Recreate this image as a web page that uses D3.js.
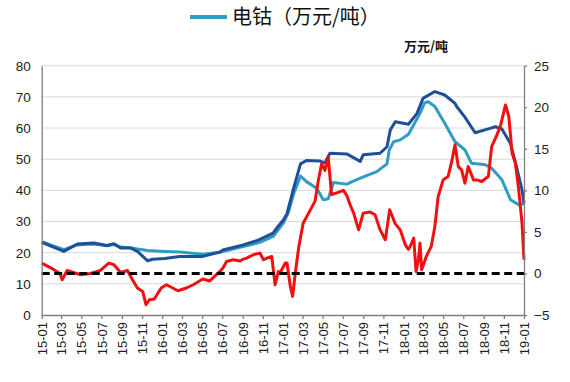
<!DOCTYPE html>
<html><head><meta charset="utf-8">
<script src="https://cdn.jsdelivr.net/npm/d3@7"></script>
<style>
body{margin:0;background:#fff}
text{font-family:"Liberation Sans",Arial,sans-serif}
</style>
</head><body><svg id="c" width="570" height="382"></svg>
<script>
// ---------- data ----------
const legendLabel = "电钴（万元/吨）";
const rightAxisTitle = "万元/吨";
const xTickLabels = ["15-01","15-03","15-05","15-07","15-09","15-11","16-01","16-03","16-05","16-07","16-09","16-11",
  "17-01","17-03","17-05","17-07","17-09","17-11","18-01","18-03","18-05","18-07","18-09","18-11","19-01"];
const leftTicks = [0,10,20,30,40,50,60,70,80];
const rightTicks = [-5,0,5,10,15,20,25];

// dark blue series (left axis)
const blueDates = ["2015-01-01","2015-03-09","2015-04-19","2015-06-08","2015-07-18","2015-08-08","2015-08-28","2015-09-27",
  "2015-10-18","2015-11-18","2015-12-03","2016-01-08","2016-02-23","2016-05-03","2016-06-24","2016-07-03","2016-08-24",
  "2016-10-18","2016-12-02","2016-12-13","2017-01-02","2017-01-13","2017-02-03","2017-02-23","2017-03-13","2017-04-23",
  "2017-05-08","2017-05-23","2017-07-13","2017-08-23","2017-09-01","2017-10-22","2017-11-12","2017-11-22","2017-12-07",
  "2018-01-16","2018-02-11","2018-03-01","2018-04-06","2018-05-06","2018-06-06","2018-06-11","2018-07-06","2018-08-06",
  "2018-09-20","2018-10-06","2018-10-26","2018-11-21","2018-12-06","2018-12-26","2019-01-01"];
const blueValues = [23.3,20.4,22.8,23.1,22.3,22.9,21.5,21.5,
  20.4,17.4,17.9,18.1,18.8,18.8,20.2,20.9,22.2,
  24.0,26.3,27.9,30.5,32.5,41.0,48.5,49.6,49.4,
  48.8,51.9,51.7,49.3,51.4,51.9,54.0,59.4,62.0,
  61.2,64.7,69.5,71.7,70.6,67.9,66.9,63.5,58.5,
  59.9,60.4,59.7,55.0,49.0,40.2,35.9];

// teal series 电钴 (left axis)
const tealDates = ["2015-01-01","2015-03-09","2015-04-19","2015-06-08","2015-07-18","2015-08-08","2015-08-28","2015-09-27",
  "2015-10-18","2015-11-18","2016-01-08","2016-02-23","2016-05-03","2016-06-24","2016-08-24","2016-10-23","2016-12-02",
  "2017-01-02","2017-01-17","2017-02-03","2017-02-23","2017-03-13","2017-04-13","2017-05-03","2017-05-18","2017-06-03",
  "2017-07-13","2017-08-23","2017-10-12","2017-11-12","2017-11-19","2017-12-02","2017-12-22","2018-01-16","2018-02-20",
  "2018-03-06","2018-03-16","2018-04-06","2018-05-06","2018-06-06","2018-07-06","2018-07-26","2018-09-06","2018-09-25",
  "2018-10-26","2018-11-21","2018-12-16","2019-01-01"];
const tealValues = [23.5,21.0,22.5,22.8,22.2,22.6,21.8,21.6,
  21.2,20.7,20.4,20.2,19.5,20.1,21.7,23.3,25.2,
  29.5,32.8,39.1,44.6,42.8,40.7,37.0,37.3,42.5,
  42.0,43.9,46.0,48.5,53.0,55.6,56.2,58.0,64.7,
  68.1,68.5,66.9,61.5,55.6,53.0,48.7,48.2,47.1,
  43.4,37.0,35.4,35.7];

// red series (right axis)
const redDates = ["2015-01-01","2015-01-30","2015-02-25","2015-03-04","2015-03-19","2015-04-29","2015-05-29","2015-06-28",
  "2015-07-23","2015-08-08","2015-08-28","2015-09-18","2015-10-03","2015-10-18","2015-11-03","2015-11-13","2015-11-23",
  "2015-12-08","2015-12-29","2016-01-14","2016-02-18","2016-03-14","2016-04-04","2016-05-03","2016-05-24","2016-06-24",
  "2016-07-03","2016-07-14","2016-08-03","2016-08-24","2016-09-03","2016-09-13","2016-10-03","2016-10-23","2016-11-03",
  "2016-11-13","2016-11-28","2016-12-08","2016-12-18","2016-12-23","2017-01-08","2017-01-13","2017-01-23","2017-01-30",
  "2017-02-08","2017-02-18","2017-03-03","2017-03-23","2017-04-08","2017-04-18","2017-04-28","2017-05-08","2017-05-18",
  "2017-05-28","2017-06-13","2017-07-03","2017-07-13","2017-07-23","2017-08-03","2017-08-18","2017-09-01","2017-09-22",
  "2017-10-07","2017-10-12","2017-10-22","2017-11-07","2017-11-20","2017-12-07","2017-12-22","2018-01-07","2018-01-16",
  "2018-01-21","2018-02-01","2018-02-08","2018-02-15","2018-02-20","2018-02-25","2018-03-11","2018-03-26","2018-04-06",
  "2018-04-16","2018-05-01","2018-05-16","2018-05-26","2018-06-06","2018-06-16","2018-06-26","2018-07-06","2018-07-16",
  "2018-08-01","2018-08-11","2018-08-26","2018-09-15","2018-09-25","2018-10-11","2018-10-21","2018-11-06","2018-11-16",
  "2018-11-26","2018-12-06","2018-12-16","2018-12-26","2019-01-01"];
const redValues = [1.25,0.65,0.0,-0.76,0.36,-0.16,0.0,0.36,
  1.25,1.05,0.12,0.36,-0.76,-1.75,-2.16,-3.76,-3.16,
  -3.08,-1.75,-1.36,-2.08,-1.75,-1.36,-0.67,-0.9,0.24,
  0.65,1.44,1.65,1.5,1.73,1.85,2.25,2.45,1.65,
  1.85,2.04,-1.36,0.24,0.05,1.25,1.25,-1.5,-2.76,
  0.3,3.25,6.05,7.5,8.7,11.2,13.2,12.4,14.0,
  9.5,9.7,10.0,9.4,8.3,7.26,5.25,7.26,7.4,
  7.06,6.45,5.25,4.05,7.66,6.0,5.25,3.4,2.9,
  3.25,4.25,0.24,1.65,3.65,0.44,2.04,3.25,5.65,
  9.25,11.26,11.66,13.27,15.47,12.86,12.46,10.87,12.86,
  11.26,11.26,11.06,11.66,15.27,16.67,17.67,20.28,18.87,
  14.47,13.27,10.06,6.06,1.65];

// ---------- chart ----------
const svg = d3.select("#c");
const W = 570, H = 382;
const m = {left: 41.7, right: 524, top: 65.7, bottom: 315};
const parse = d3.utcParse("%Y-%m-%d");
const tickDates = xTickLabels.map(s => new Date(Date.UTC(2000 + +s.slice(0,2), +s.slice(3,5) - 1, 1)));

const x = d3.scaleUtc().domain([tickDates[0], tickDates[tickDates.length-1]]).range([m.left, m.right]);
const yL = d3.scaleLinear().domain([0, 80]).range([m.bottom, m.top]);
const yR = d3.scaleLinear().domain([-5, 25]).range([m.bottom, m.top]);

svg.append("rect").attr("width", W).attr("height", H).attr("fill", "#fff");

// gridlines
svg.append("g").selectAll("line").data(leftTicks.filter(t => t > 0)).join("line")
  .attr("x1", m.left).attr("x2", m.right)
  .attr("y1", d => yL(d)).attr("y2", d => yL(d))
  .attr("stroke", "#d9d9d9").attr("stroke-width", 1);

// series
const mk = (dates, vals) => dates.map((d, i) => ({d: parse(d), v: vals[i]}));
const lineL = d3.line().x(p => x(p.d)).y(p => yL(p.v));
const lineR = d3.line().x(p => x(p.d)).y(p => yR(p.v));

svg.append("path").datum(mk(tealDates, tealValues)).attr("d", lineL)
  .attr("fill", "none").attr("stroke", "#2f9cc4").attr("stroke-width", 3).attr("stroke-linejoin", "round");
svg.append("path").datum(mk(blueDates, blueValues)).attr("d", lineL)
  .attr("fill", "none").attr("stroke", "#1f4f98").attr("stroke-width", 3).attr("stroke-linejoin", "round");
svg.append("path").datum(mk(redDates, redValues)).attr("d", lineR)
  .attr("fill", "none").attr("stroke", "#f01010").attr("stroke-width", 3).attr("stroke-linejoin", "round");

// zero dashed line (right axis)
svg.append("line").attr("x1", m.left).attr("x2", m.right)
  .attr("y1", yR(0)).attr("y2", yR(0))
  .attr("stroke", "#000").attr("stroke-width", 3).attr("stroke-dasharray", "8,4.5");

// axes
const axisColor = "#7f7f7f";
const gL = svg.append("g").attr("transform", `translate(${m.left},0)`)
  .call(d3.axisLeft(yL).tickValues(leftTicks).tickSize(0).tickPadding(11).tickSizeOuter(0));
const gR = svg.append("g").attr("transform", `translate(${m.right},0)`)
  .call(d3.axisRight(yR).tickValues(rightTicks).tickSize(3).tickPadding(7).tickSizeOuter(0));
const gB = svg.append("g").attr("transform", `translate(0,${m.bottom})`)
  .call(d3.axisBottom(x).tickValues(tickDates).tickSize(4).tickSizeOuter(0).tickFormat((d, i) => xTickLabels[i]));

[gL, gR, gB].forEach(g => {
  g.select(".domain").attr("stroke", axisColor).attr("stroke-width", 1.3);
  g.selectAll(".tick line").attr("stroke", axisColor).attr("stroke-width", 1.3);
  g.selectAll("text").attr("fill", "#222").style("font-family", '"Liberation Sans",Arial,sans-serif').style("font-size", "13.5px");
});
gB.selectAll("text")
  .attr("transform", "rotate(-90)")
  .attr("x", -7).attr("y", 0).attr("dy", "0.35em")
  .attr("text-anchor", "end").style("font-size", "13px");

// legend
svg.append("line").attr("x1", 190).attr("x2", 227).attr("y1", 17).attr("y2", 17)
  .attr("stroke", "#2f9cc4").attr("stroke-width", 4);
svg.append("text").attr("x", 232).attr("y", 17).attr("dy", "0.35em")
  .style("font-family", '"Noto Sans CJK SC",sans-serif').style("font-size", "20px").attr("fill", "#111")
  .text(legendLabel);

// right axis title
svg.append("text").attr("x", 404).attr("y", 46).attr("dy", "0.35em")
  .style("font-family", '"Noto Sans CJK SC",sans-serif').style("font-size", "13px").style("font-weight", "bold")
  .attr("fill", "#111").text(rightAxisTitle);
</script></body></html>
